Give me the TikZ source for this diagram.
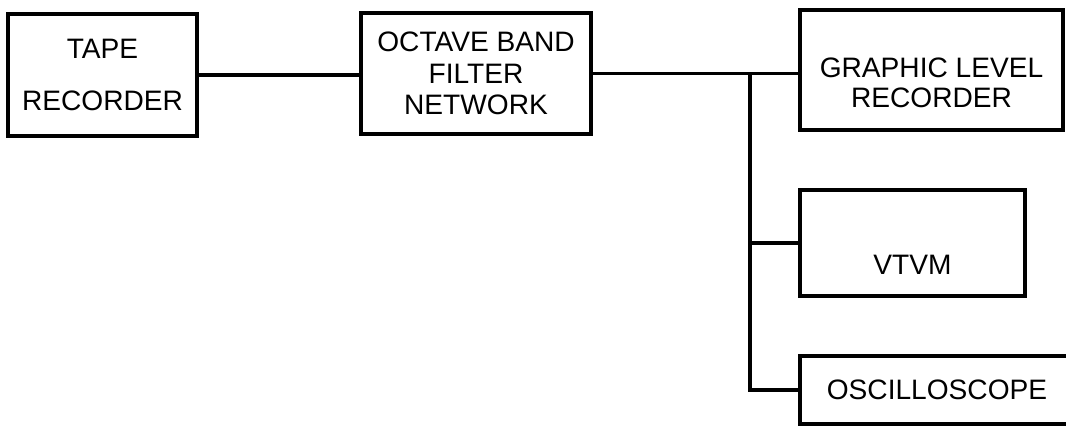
\documentclass[tikz,border=0pt]{standalone}
\usepackage{fontspec}
\setmainfont{Liberation Sans}
\usetikzlibrary{calc,positioning}

\begin{document}
\begin{tikzpicture}[
			x=0.02cm, y=-0.02cm,
			unit box/.style={draw, line width=2pt, inner sep=0pt, align=center,
				font=\fontsize{16}{18}\selectfont},
			box text/.style={align=center, font=\fontsize{16}{17}\selectfont},
			wire/.style={line width=1.8pt}
			]
			\useasboundingbox (0,0) rectangle (1066,426);
			
			\node[unit box, minimum width=3.78cm, minimum height=2.44cm,
				font=\fontsize{16}{30}\selectfont] (tape) at (102.5,75) {TAPE\\RECORDER};
			\node[unit box, minimum width=4.6cm, minimum height=2.42cm] (filter) at (476,73.5)
				{OCTAVE BAND\\FILTER\\NETWORK};
			\node[unit box, minimum width=5.26cm, minimum height=2.4cm] (level) at (931.5,70) {};
			\node[box text] (leveltext) at (931.5,82.5) {GRAPHIC LEVEL\\RECORDER};
			\node[unit box, minimum width=4.5cm, minimum height=2.12cm] (vtvm) at (912.5,243) {};
			\node[box text] (vtvmtext) at (912.5,265) {VTVM};
			\node[unit box, minimum width=5.48cm, minimum height=1.36cm] (scope) at (937,390)
				{OSCILLOSCOPE};
			
			% wiring
			\coordinate (split) at (750,73);
			\draw[wire] (tape.east) -- (tape.east -| filter.west);
			\draw[wire] (filter.east) -- (filter.east -| level.west);
			\draw[wire] (split) |- (vtvm.west);
			\draw[wire] (split) |- (scope.west);
		\end{tikzpicture}
\end{document}
